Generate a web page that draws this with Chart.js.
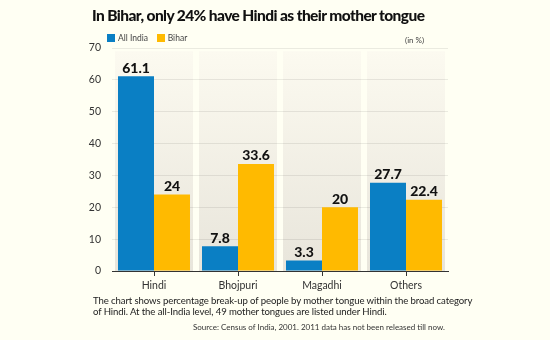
<!DOCTYPE html>
<html>
<head>
<meta charset="utf-8">
<script src="https://cdn.jsdelivr.net/npm/chart.js@4.4.0/dist/chart.umd.min.js"></script>
<style>
	body{margin:0;background:#fffff3;font-family:'Lato',sans-serif;}
	#wrap{position:relative;width:550px;height:340px;overflow:hidden;}
	#grafico{position:absolute;left:0;top:0;}
	.titulo{position:absolute;left:92px;top:6px;white-space:nowrap;font-weight:900;font-size:15.5px;letter-spacing:-0.6px;color:#111;}
	.leyenda{position:absolute;top:33px;left:107px;font-size:8.5px;color:#444;}
	.leyenda span.c{display:inline-block;width:8px;height:8px;vertical-align:-1px;margin-right:3px;}
	.unidad{position:absolute;top:35px;left:405px;font-size:8px;color:#444;}
	.nota{position:absolute;top:295px;left:93px;width:400px;font-size:9.6px;letter-spacing:-0.1px;line-height:11px;color:#222;}
	.fuente{position:absolute;top:322px;right:105px;font-size:8px;color:#333;}
</style>
</head>
<body>
<div id="wrap">
	<canvas id="grafico" width="550" height="340"></canvas>
	<div class="titulo">In Bihar, only 24% have Hindi as their mother tongue</div>
	<div class="leyenda"><span class="c" style="background:#0a7fc4"></span>All India&nbsp;&nbsp;&nbsp;&nbsp;<span class="c" style="background:#ffba00"></span>Bihar</div>
	<div class="unidad">(in %)</div>
	<div class="nota">The chart shows percentage break-up of people by mother tongue within the broad category<br>of Hindi. At the all-India level, 49 mother tongues are listed under Hindi.</div>
	<div class="fuente">Source: Census of India, 2001. 2011 data has not been released till now.</div>
</div>
<script>
let lenguas=['Hindi','Bhojpuri','Magadhi','Others'];
let allIndia=[61.1,7.8,3.3,27.7];
let bihar=[24,33.6,20,22.4];
let ticksY=[0,10,20,30,40,50,60,70];

// fondo gris de cada categoria
let bandas={
	id:'bandas',
	beforeDraw(chart){
		let ctx=chart.ctx;
		let x=chart.scales.x, y=chart.scales.y;
		let top=y.getPixelForValue(69), bottom=y.getPixelForValue(0);
		let grad=ctx.createLinearGradient(0,top,0,bottom);
		grad.addColorStop(0,'#fcfaf0');
		grad.addColorStop(1,'#e8e5db');
		ctx.save();
		ctx.fillStyle=grad;
		lenguas.forEach((l,i)=>{
			let cx=x.getPixelForValue(i);
			ctx.fillRect(cx-39,top,78,bottom-top);
		});
		ctx.restore();
	}
}

// numeros encima de las barras
let etiquetas={
	id:'etiquetas',
	afterDatasetsDraw(chart){
		let ctx=chart.ctx;
		ctx.save();
		ctx.font='900 14px Lato';
		ctx.fillStyle='#111';
		ctx.textAlign='center';
		ctx.textBaseline='bottom';
		chart.data.datasets.forEach((ds,d)=>{
			chart.getDatasetMeta(d).data.forEach((bar,i)=>{
				ctx.fillText(String(ds.data[i]),bar.x,bar.y-1);
			});
		});
		ctx.restore();
	}
}

let CanvasG1=document.getElementById('grafico').getContext('2d');
let datos={
	labels:lenguas,
	datasets:[
		{label:'All India',data:allIndia,backgroundColor:'#0a7fc4',barPercentage:1,categoryPercentage:0.857},
		{label:'Bihar',data:bihar,backgroundColor:'#ffba00',barPercentage:1,categoryPercentage:0.857}
	]
}
let opciones={
	responsive:false,
	animation:false,
	layout:{padding:{left:0,right:102,top:48,bottom:45}},
	plugins:{legend:{display:false},tooltip:{enabled:false}},
	scales:{
		x:{
			afterFit(s){s.height=24;},
			grid:{offset:false,drawOnChartArea:false,drawTicks:true,tickLength:5,color:'#333'},
			border:{color:'#333',width:1},
			ticks:{color:'#333',font:{family:'Lato',size:10.5},padding:3}
		},
		y:{
			min:0,max:70,
			afterFit(s){s.width=112;},
			afterBuildTicks(s){s.ticks=ticksY.map(v=>({value:v}));},
			grid:{drawTicks:false,color:'rgba(0,0,0,0.08)'},
			border:{display:false},
			ticks:{color:'#333',font:{family:'Lato',size:10.5},padding:11}
		}
	}
}
let G1=new Chart(CanvasG1,{type:'bar',data:datos,options:opciones,plugins:[bandas,etiquetas]});
</script>
</body>
</html>
